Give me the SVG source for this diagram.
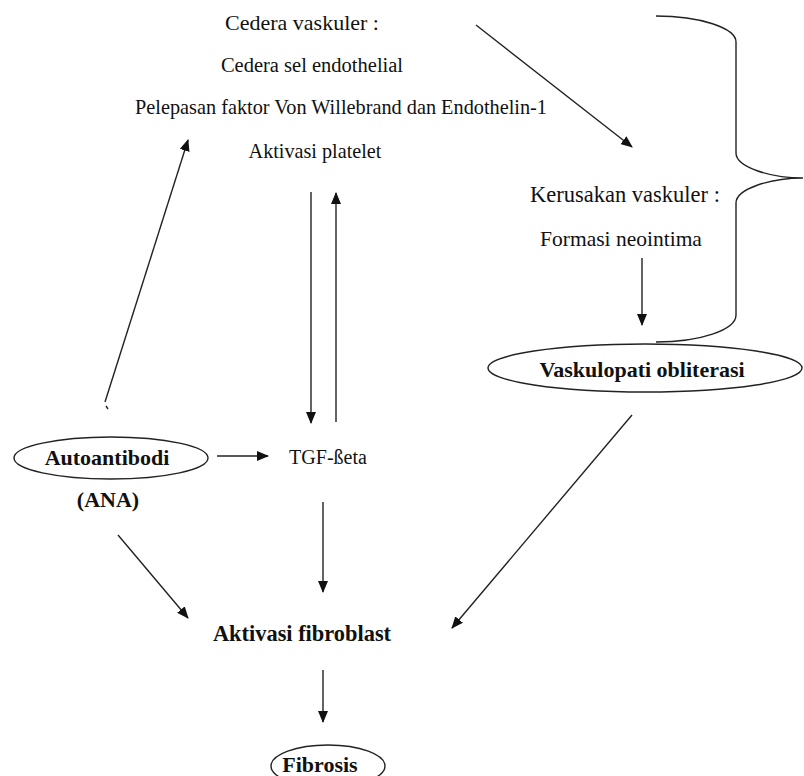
<svg xmlns="http://www.w3.org/2000/svg" width="804" height="776" viewBox="0 0 804 776">
<style>
.t{font-family:"Liberation Serif","Times New Roman",serif;fill:#111;text-anchor:middle}
.b{font-weight:bold}
.ln{stroke:#222;stroke-width:1.4;fill:none}
.sh{fill:none;stroke:#222;stroke-width:1.4}
</style>
<defs>
<marker id="ah" viewBox="0 0 12 10" refX="11" refY="5" markerWidth="12" markerHeight="10" markerUnits="userSpaceOnUse" orient="auto">
<path d="M0,0 L12,5 L0,10 Z" fill="#111"/>
</marker>
</defs>
<rect width="804" height="776" fill="#fff"/>

<g id="cedera">
<text class="t" x="302" y="30" font-size="22">Cedera vaskuler :</text>
<text class="t" x="312" y="72" font-size="20.5">Cedera sel endothelial</text>
<text class="t" x="341" y="114" font-size="20.3">Pelepasan faktor Von Willebrand dan Endothelin-1</text>
<text class="t" x="315" y="158" font-size="20.2">Aktivasi platelet</text>
</g>

<g id="kerusakan">
<text class="t" x="625" y="202" font-size="22.5">Kerusakan vaskuler :</text>
<text class="t" x="621" y="246" font-size="21.5">Formasi neointima</text>
</g>

<g id="brace">
<path class="sh" d="M656,16 C700,16 736,28 736,42 L736,153 C736,167 770,178 803,178 C770,178 736,189 736,203 L736,315 C736,330 700,342 656,342"/>
</g>

<g id="vaskulopati">
<ellipse class="sh" cx="645" cy="368" rx="157" ry="24"/>
<text class="t b" x="642" y="377" font-size="22">Vaskulopati obliterasi</text>
</g>

<g id="autoantibodi">
<ellipse class="sh" cx="111" cy="458" rx="97" ry="21"/>
<text class="t b" x="107" y="465" font-size="22">Autoantibodi</text>
<text class="t b" x="108" y="507" font-size="22">(ANA)</text>
</g>

<g id="tgf">
<text class="t" x="328" y="464" font-size="20">TGF-ßeta</text>
</g>

<g id="fibroblast">
<text class="t b" x="302" y="641" font-size="22.4">Aktivasi fibroblast</text>
</g>

<g id="fibrosis">
<ellipse class="sh" cx="328" cy="766" rx="57" ry="21"/>
<text class="t b" x="320" y="772" font-size="22">Fibrosis</text>
</g>

<g id="connectors">
<line class="ln" x1="476" y1="25" x2="632" y2="147" marker-end="url(#ah)"/>
<line class="ln" x1="105" y1="402" x2="188" y2="140" marker-end="url(#ah)"/>
<line class="ln" x1="106" y1="406" x2="108" y2="409"/>
<line class="ln" x1="311" y1="192" x2="311" y2="423" marker-end="url(#ah)"/>
<line class="ln" x1="336" y1="422" x2="336" y2="193" marker-end="url(#ah)"/>
<line class="ln" x1="217" y1="456" x2="268" y2="456" marker-end="url(#ah)"/>
<line class="ln" x1="323" y1="502" x2="323" y2="592" marker-end="url(#ah)"/>
<line class="ln" x1="118" y1="535" x2="188" y2="618" marker-end="url(#ah)"/>
<line class="ln" x1="632" y1="415" x2="452" y2="628" marker-end="url(#ah)"/>
<line class="ln" x1="642" y1="258" x2="642" y2="325" marker-end="url(#ah)"/>
<line class="ln" x1="323" y1="670" x2="323" y2="722" marker-end="url(#ah)"/>
</g>
</svg>
